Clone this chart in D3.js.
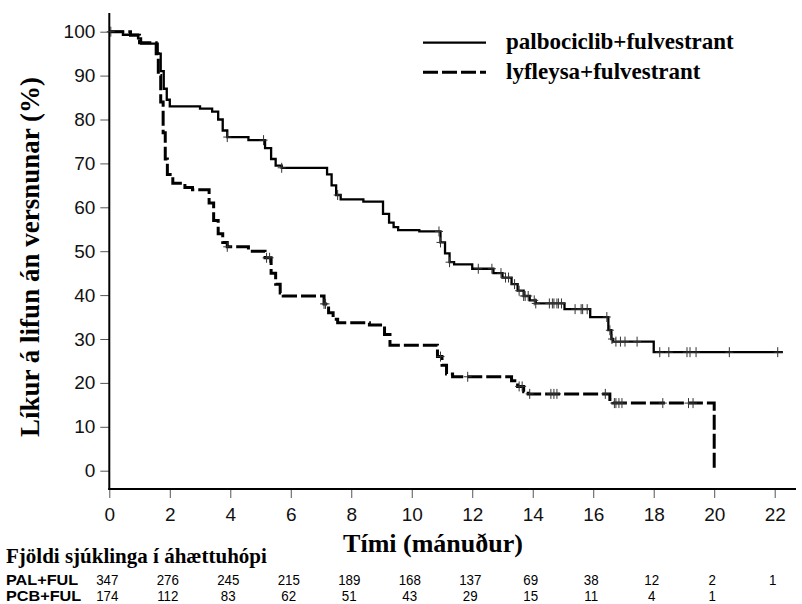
<!DOCTYPE html>
<html>
<head>
<meta charset="utf-8">
<script src="https://cdn.jsdelivr.net/npm/d3@7"></script>
<style>
  body { margin: 0; background: #fff; }
  svg { display: block; }
</style>
</head>
<body>
<script>
// Kaplan-Meier step data (months, % progression-free)
const palTime = [0, 0.45, 0.95, 1.05, 1.6, 1.7, 1.8, 1.9, 2.0, 3.0, 3.4, 3.6, 3.75, 3.9, 4.6, 5.15, 5.35, 5.5, 5.7, 7.2, 7.35, 7.5, 7.65, 8.4, 9.05, 9.25, 9.4, 9.55, 10.25, 10.95, 11.1, 11.25, 11.4, 12.0, 12.7, 13.0, 13.3, 13.5, 13.7, 13.9, 14.1, 15.05, 15.9, 16.5, 16.6, 16.65, 18.0, 22.27];
const palSurv = [100, 99.3, 98.5, 97.3, 95, 91, 87, 84.5, 83, 82.5, 81.8, 80, 77.5, 76, 75.3, 73.5, 71, 69.5, 69, 67.5, 65, 62.8, 61.8, 61.3, 58.5, 56.5, 55.5, 54.8, 54.5, 52, 49.5, 47.5, 47, 46, 45, 44, 42.5, 41, 39.8, 38.8, 38.1, 36.8, 35, 32, 30, 29.4, 27, 27];
const palCens = [0.05, 3.9, 5.1, 5.7, 7.55, 10.9, 10.95, 11.25, 12.2, 12.65, 12.95, 13.1, 13.2, 13.4, 13.55, 13.7, 13.75, 13.85, 14.05, 14.1, 14.55, 14.65, 14.7, 14.8, 14.85, 14.95, 15.4, 15.6, 15.65, 15.8, 16.45, 16.55, 16.62, 16.75, 16.9, 17.05, 17.45, 18.2, 18.5, 19.1, 19.2, 19.4, 20.5, 22.1];

const pcbTime = [0, 0.7, 1.0, 1.55, 1.62, 1.7, 1.78, 1.85, 1.92, 2.1, 2.5, 2.75, 3.3, 3.45, 3.6, 3.75, 3.9, 4.6, 5.15, 5.35, 5.5, 5.65, 5.75, 7.1, 7.25, 7.4, 7.55, 8.6, 9.1, 9.28, 10.85, 11.0, 11.15, 11.35, 13.3, 13.5, 13.7, 13.85, 16.55, 16.65, 20.0];
const pcbSurv = [100, 99.2, 97.5, 95, 90, 84, 77, 71, 67.5, 65.5, 64.5, 64, 61, 57, 54, 52, 51, 50, 48.5, 45, 42.5, 40.5, 39.8, 38, 36, 34.5, 33.7, 33.2, 31, 28.6, 26, 24, 22, 21.4, 20.5, 19.2, 18, 17.5, 16.2, 15.4, 0];
const pcbCens = [3.9, 5.2, 5.3, 7.1, 7.15, 10.95, 11.85, 13.55, 13.65, 13.9, 14.6, 14.7, 14.8, 16.4, 16.7, 16.75, 16.85, 16.95, 18.3, 19.15, 19.3];

const xTicks = [0, 2, 4, 6, 8, 10, 12, 14, 16, 18, 20, 22];
const yTicks = [0, 10, 20, 30, 40, 50, 60, 70, 80, 90, 100];
const atRiskPal = [347, 276, 245, 215, 189, 168, 137, 69, 38, 12, 2, 1];
const atRiskPcb = [174, 112, 83, 62, 51, 43, 29, 15, 11, 4, 1];

const seriesNames = ["palbociclib+fulvestrant", "lyfleysa+fulvestrant"];
const rowLabels = ["PAL+FUL", "PCB+FUL"];

const W = 802, H = 604;
const sans = "'Liberation Sans', Arial, sans-serif";
const serif = "'Liberation Serif', 'Times New Roman', serif";

const x = d3.scaleLinear().domain([0, 22]).range([109.3, 774.7]);
const y = d3.scaleLinear().domain([0, 100]).range([470.7, 31.7]);
const axisY = 489;

const svg = d3.select("body").append("svg")
    .attr("width", W)
    .attr("height", H);

svg.append("rect").attr("width", W).attr("height", H).attr("fill", "#fff");

// axes
const yAxis = svg.append("g")
    .attr("transform", `translate(${x(0)},0)`)
    .call(d3.axisLeft(y).tickValues(yTicks).tickSize(9).tickPadding(5).tickSizeOuter(0));
yAxis.select(".domain").remove();
yAxis.selectAll("line").attr("stroke", "#555");
yAxis.selectAll("text").attr("font-family", sans).attr("font-size", 19).attr("fill", "#111");

const xAxis = svg.append("g")
    .attr("transform", `translate(0,${axisY})`)
    .call(d3.axisBottom(x).tickValues(xTicks).tickSize(9).tickPadding(10).tickSizeOuter(0));
xAxis.select(".domain").remove();
xAxis.selectAll("line").attr("stroke", "#555");
xAxis.selectAll("text").attr("font-family", sans).attr("font-size", 19).attr("fill", "#111");

svg.append("line")
    .attr("x1", x(0)).attr("x2", x(0))
    .attr("y1", 13).attr("y2", axisY + 1)
    .attr("stroke", "#000").attr("stroke-width", 2);
svg.append("line")
    .attr("x1", x(0) - 1).attr("x2", 796)
    .attr("y1", axisY).attr("y2", axisY)
    .attr("stroke", "#000").attr("stroke-width", 2);

// curves
const line = d3.line()
    .x(d => x(d[0]))
    .y(d => y(d[1]))
    .curve(d3.curveStepAfter);

const palData = palTime.map((t, i) => [t, palSurv[i]]);
const pcbData = pcbTime.map((t, i) => [t, pcbSurv[i]]);

svg.append("path")
    .datum(pcbData)
    .attr("d", line)
    .attr("fill", "none")
    .attr("stroke", "#000")
    .attr("stroke-width", 3)
    .attr("stroke-dasharray", "15,4");

svg.append("path")
    .datum(palData)
    .attr("d", line)
    .attr("fill", "none")
    .attr("stroke", "#000")
    .attr("stroke-width", 2.3);

// censor marks sit on the curve at their time
const survAt = (times, surv, t) => surv[Math.max(0, d3.bisectRight(times, t) - 1)];

const drawCensors = (cens, times, surv) => {
  const g = svg.append("g");
  cens.forEach(t => {
    const cx = x(t), cy = y(survAt(times, surv, t));
    g.append("path")
      .attr("d", `M${cx - 4},${cy}H${cx + 4}M${cx},${cy - 5}V${cy + 5}`)
      .attr("stroke", "#333")
      .attr("stroke-width", 1);
  });
};
drawCensors(palCens, palTime, palSurv);
drawCensors(pcbCens, pcbTime, pcbSurv);

// legend
const legend = svg.append("g");
[[42.7, null, 49], [72.3, "15,4", 79]].forEach(([ly, dash, ty], i) => {
  legend.append("line")
    .attr("x1", 423).attr("x2", 486)
    .attr("y1", ly).attr("y2", ly)
    .attr("stroke", "#000")
    .attr("stroke-width", dash ? 3 : 2.3)
    .attr("stroke-dasharray", dash);
  legend.append("text")
    .attr("x", 506).attr("y", ty)
    .attr("font-family", serif)
    .attr("font-weight", "bold")
    .attr("font-size", 23)
    .text(seriesNames[i]);
});

// axis titles
svg.append("text")
    .attr("transform", "translate(39,257) rotate(-90)")
    .attr("text-anchor", "middle")
    .attr("font-family", serif)
    .attr("font-weight", "bold")
    .attr("font-size", 27)
    .text("Líkur á lifun án versnunar (%)");

svg.append("text")
    .attr("x", 433).attr("y", 552)
    .attr("text-anchor", "middle")
    .attr("font-family", serif)
    .attr("font-weight", "bold")
    .attr("font-size", 26)
    .text("Tími (mánuður)");

// number at risk table
svg.append("text")
    .attr("x", 6).attr("y", 563)
    .attr("font-family", serif)
    .attr("font-weight", "bold")
    .attr("font-size", 21)
    .text("Fjöldi sjúklinga í áhættuhópi");

[[atRiskPal, 584.5], [atRiskPcb, 601]].forEach(([vals, by], i) => {
  svg.append("text")
    .attr("transform", `translate(6,${by}) scale(1.12,1)`)
    .attr("font-family", sans)
    .attr("font-weight", "bold")
    .attr("font-size", 14.5)
    .text(rowLabels[i]);
  vals.forEach((v, j) => {
    svg.append("text")
      .attr("transform", `translate(${x(xTicks[j]) - 2},${by}) scale(0.92,1)`)
      .attr("text-anchor", "middle")
      .attr("font-family", sans)
      .attr("font-size", 14.5)
      .attr("fill", "#000")
      .text(v);
  });
});
</script>
</body>
</html>
